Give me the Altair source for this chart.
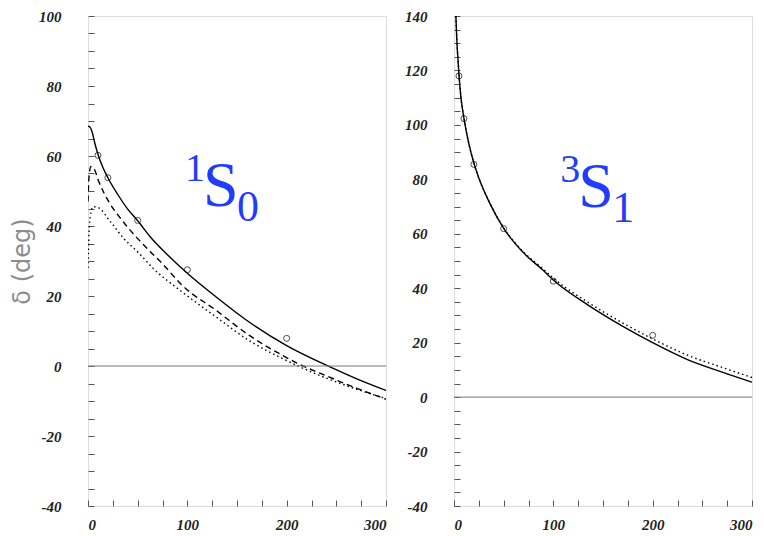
import altair as alt
import pandas as pd

# ---------------- data: 1S0 panel ----------------
s0_solid_x = [0, 2, 4, 7, 10, 15, 20, 30, 40, 50, 63, 80, 100, 130, 160, 200, 243, 270, 300]
s0_solid_y = [68.5, 68.3, 67.0, 63.5, 60.5, 56.7, 53.8, 49.0, 44.8, 41.5, 36.8, 31.8, 26.5, 19.5, 13.0, 5.8, -0.2, -3.6, -7.0]
s0_dash_x = [0, 1, 3, 6, 11, 21, 33, 50, 63, 75, 95, 129, 162, 196, 212, 239, 270, 300]
s0_dash_y = [47, 54, 57, 56.4, 52.6, 46.9, 42.1, 36.4, 32.6, 29.2, 23.0, 15.9, 8.8, 3.0, 0.6, -2.7, -6.3, -9.5]
s0_dot_x = [0, 1, 2.5, 5, 9, 23, 36, 50, 66, 95, 129, 162, 196, 229, 260, 300]
s0_dot_y = [28, 38, 43, 45.5, 45.4, 41.1, 36.4, 32.6, 27.8, 21.1, 14.0, 7.3, 2.1, -2.2, -5.6, -9.3]
s0_pts_x = [10, 20, 50, 100, 200]
s0_pts_y = [60.2, 53.8, 41.6, 27.5, 7.9]

# ---------------- data: 3S1 panel ----------------
s1_solid_x = [1.5, 2, 3, 4, 5, 7, 10, 15, 20, 25, 35, 50, 70, 90, 100, 135, 170, 200, 235, 270, 300]
s1_solid_y = [145, 139, 130, 124, 118.5, 110, 102.5, 93, 86, 80.5, 72, 62, 53, 46.5, 43, 33.8, 26, 20, 13.8, 9.2, 5.5]
s1_dot_x = [1.5, 2, 3, 4, 5, 7, 10, 15, 20, 25, 35, 50, 70, 90, 100, 135, 170, 200, 235, 270, 300]
s1_dot_y = [145, 139, 130, 124, 118.5, 110, 102.5, 93, 86, 80.5, 72, 62.2, 53.3, 47, 43.7, 34.8, 27.2, 21.4, 15.4, 10.9, 7.2]
s1_pts_x = [5, 10, 20, 50, 100, 200]
s1_pts_y = [118, 102.3, 85.5, 61.9, 42.6, 22.7]

# wave labels: spectroscopic notation (superscript, letter, subscript)
lab_sup = ["1", "3"]
lab_main = ["S", "S"]
lab_sub = ["0", "1"]
lab_x = [115.8, 125.2]
lab_y = [45.8, 69.8]

# axis ticks (labels only on the major values)
x_minor = list(range(0, 301, 25))
y0_minor = list(range(-40, 101, 5))
y1_minor = list(range(-40, 141, 5))

BLUE = "#1f3cff"
LABEL_FONT = "Liberation Serif"
TICK_COLOR = "#555"
TICK_LEN = 6
PW, PH = 298, 490
X_LABELS = "datum.value % 100 === 0 ? replace(datum.label, '\u2212', '-') : ''"
Y_LABELS = "datum.value % 20 === 0 ? replace(datum.label, '\u2212', '-') : ''"


def panel(curves, px, py, ydom, yminor, idx, ytitle):
    xs = alt.Scale(domain=[0, 300], nice=False, zero=False)
    ys = alt.Scale(domain=ydom, nice=False, zero=False)
    # axis moved inside the frame by the tick length, so ticks point inward
    common = dict(
        ticks=True, tickSize=TICK_LEN, tickColor=TICK_COLOR, tickWidth=1, offset=-TICK_LEN,
        grid=False, domain=False, labelFont=LABEL_FONT, labelFontStyle="italic",
        labelFontWeight="bold", labelFontSize=15, labelColor="#222", labelOverlap=False,
    )
    if ytitle:
        yax = alt.Axis(values=yminor, labelExpr=Y_LABELS, labelPadding=27, orient="left", title=ytitle,
                       titleFont="DejaVu Sans", titleFontSize=24, titleFontWeight="normal",
                       titleColor="#8c8c8c", titlePadding=4, **common)
    else:
        yax = alt.Axis(values=yminor, labelExpr=Y_LABELS, labelPadding=27, orient="left",
                       title=None, **common)
    xax = alt.Axis(values=x_minor, labelExpr=X_LABELS, labelPadding=11, title=None,
                   orient="bottom", **common)

    layers = []
    # curves; the first one carries the labelled axes
    for i, (cx, cy, dash) in enumerate(curves):
        df = pd.DataFrame({"x": cx, "y": cy})
        mk = dict(color="black", strokeWidth=1.4, clip=True, interpolate="monotone")
        if dash:
            mk["strokeDash"] = dash
        layers.append(
            alt.Chart(df).mark_line(**mk).encode(
                x=alt.X("x:Q", scale=xs, axis=xax if i == 0 else None),
                y=alt.Y("y:Q", scale=ys, axis=yax if i == 0 else None),
            )
        )

    # zero line
    layers.append(
        alt.Chart(pd.DataFrame({"y": [0]})).mark_rule(color="#777", strokeWidth=1).encode(
            y=alt.Y("y:Q", scale=ys, axis=None)
        )
    )

    # data points
    pts = pd.DataFrame({"x": px, "y": py})
    layers.append(
        alt.Chart(pts).mark_point(shape="circle", filled=False, size=36, color="black", strokeWidth=1).encode(
            x=alt.X("x:Q", scale=xs, axis=None),
            y=alt.Y("y:Q", scale=ys, axis=None),
        )
    )

    # spectroscopic label
    ld = pd.DataFrame({"x": [lab_x[idx]], "y": [lab_y[idx]], "m": [lab_main[idx]],
                       "sup": [lab_sup[idx]], "sub": [lab_sub[idx]]})
    base = alt.Chart(ld)
    enc = dict(x=alt.X("x:Q", scale=xs, axis=None), y=alt.Y("y:Q", scale=ys, axis=None))
    layers.append(base.mark_text(font=LABEL_FONT, fontSize=64, color=BLUE, align="left",
                                 baseline="alphabetic").encode(text="m:N", **enc))
    layers.append(base.mark_text(font=LABEL_FONT, fontSize=40, color=BLUE, align="right",
                                 baseline="alphabetic", dx=2, dy=-25).encode(text="sup:N", **enc))
    layers.append(base.mark_text(font=LABEL_FONT, fontSize=44, color=BLUE, align="left",
                                 baseline="alphabetic", dx=34, dy=15).encode(text="sub:N", **enc))
    return (
        alt.layer(*layers)
        .resolve_axis(x="independent", y="independent")
        .properties(width=PW, height=PH)
    )


left = panel(
    [(s0_solid_x, s0_solid_y, None), (s0_dash_x, s0_dash_y, [6, 4]), (s0_dot_x, s0_dot_y, [1.5, 3])],
    s0_pts_x, s0_pts_y, [-40, 100], y0_minor, 0, "δ (deg)",
)
right = panel(
    [(s1_solid_x, s1_solid_y, None), (s1_dot_x, s1_dot_y, [1.5, 3])],
    s1_pts_x, s1_pts_y, [-40, 140], y1_minor, 1, None,
)

chart = alt.hconcat(left, right, spacing=17).properties(
    padding={"left": 2, "top": 0, "right": 0, "bottom": 0}
).configure_view(stroke="#666", strokeWidth=1).configure(background="white")

chart.save("out.html", embed_options={"renderer": "svg", "actions": False})
